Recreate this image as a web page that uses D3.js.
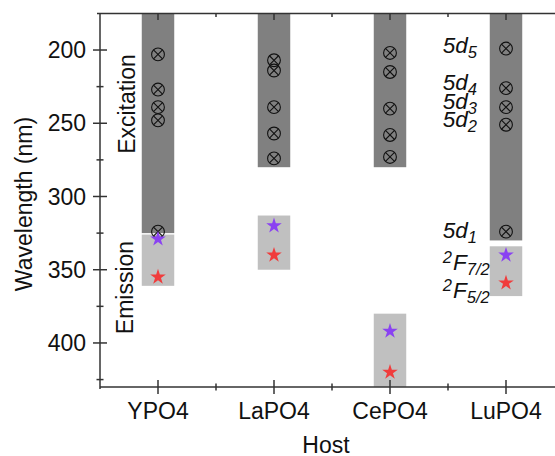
<!DOCTYPE html>
<html>
<head>
<meta charset="utf-8">
<script src="https://cdn.jsdelivr.net/npm/d3@7"></script>
<style>
  body { margin: 0; background: #fff; }
  svg { display: block; font-family: "Liberation Sans", Arial, sans-serif; }
</style>
</head>
<body>
<svg id="chart" width="555" height="456"></svg>
<script>
// hosts along the x axis
var hosts = ['YPO4', 'LaPO4', 'CePO4', 'LuPO4'];

// excitation band (5d levels), from top of axis down to this wavelength
var excitationEnd = [325, 280, 280, 330];

// emission band (2F levels)
var emissionStart = [326, 313, 380, 334];
var emissionEnd = [361, 350, 430, 368];

// 5d level positions per host (nm)
var levels5d = [
  [203, 227, 239, 248, 324],
  [207, 214, 239, 257, 274],
  [202, 215, 240, 258, 273],
  [199, 226, 239, 251, 324]
];

// emission lines per host (nm)
var emission72 = [329, 320, 392, 340];
var emission52 = [355, 340, 420, 359];

var yTicks = [200, 250, 300, 350, 400];
var yMinorTicks = [225, 275, 325, 375, 425];
var xMinorTicks = [1.5, 2.5, 3.5];

// level names written next to LuPO4
var levelNames = [
  { sup: '', main: '5d', sub: '5', at: 202 },
  { sup: '', main: '5d', sub: '4', at: 227 },
  { sup: '', main: '5d', sub: '3', at: 240 },
  { sup: '', main: '5d', sub: '2', at: 252.5 },
  { sup: '', main: '5d', sub: '1', at: 328.5 },
  { sup: '2', main: 'F', sub: '7/2', at: 350.5 },
  { sup: '2', main: 'F', sub: '5/2', at: 369.5 }
];

(function draw() {

  var svg = d3.select('#chart');

  var left = 100, top = 13.4, bottom = 386.9, right = 564;

  var x = d3.scaleLinear()
      .domain([0.5, 4.5])
      .range([left, right]);

  var y = d3.scaleLinear()
      .domain([175, 430])
      .range([top, bottom]);

  var half = 0.14;
  var axisColor = '#333';

  // bars
  var bars = svg.append('g');

  bars.selectAll('rect.exc')
      .data(hosts)
      .enter()
    .append('rect')
      .attr('class', 'exc')
      .attr('x', function (d, i) { return x(i + 1 - half); })
      .attr('width', x(1 + half) - x(1 - half))
      .attr('y', y(175))
      .attr('height', function (d, i) { return y(excitationEnd[i]) - y(175); })
      .attr('fill', '#808080');

  bars.selectAll('rect.em')
      .data(hosts)
      .enter()
    .append('rect')
      .attr('class', 'em')
      .attr('x', function (d, i) { return x(i + 1 - half); })
      .attr('width', x(1 + half) - x(1 - half))
      .attr('y', function (d, i) { return y(emissionStart[i]); })
      .attr('height', function (d, i) { return y(emissionEnd[i]) - y(emissionStart[i]); })
      .attr('fill', '#c0c0c0');

  // circled crosses for 5d levels
  var r = 6.4, k = r * Math.SQRT1_2;

  var pts = [];
  levels5d.forEach(function (list, i) {
    list.forEach(function (v) { pts.push({ i: i, v: v }); });
  });

  var marks = svg.append('g')
    .selectAll('g')
      .data(pts)
      .enter()
    .append('g')
      .attr('transform', function (d) { return 'translate(' + x(d.i + 1) + ',' + y(d.v) + ')'; })
      .attr('fill', 'none')
      .attr('stroke', '#111')
      .attr('stroke-width', 1.1);

  marks.append('circle').attr('r', r);
  marks.append('path').attr('d', 'M' + (-k) + ',' + (-k) + 'L' + k + ',' + k + 'M' + (-k) + ',' + k + 'L' + k + ',' + (-k));

  // stars for emission
  var star = d3.symbol().type(d3.symbolStar).size(75);

  svg.append('g')
    .selectAll('path')
      .data(emission72)
      .enter()
    .append('path')
      .attr('d', star)
      .attr('transform', function (d, i) { return 'translate(' + x(i + 1) + ',' + y(d) + ')'; })
      .attr('fill', '#8a42f2');

  svg.append('g')
    .selectAll('path')
      .data(emission52)
      .enter()
    .append('path')
      .attr('d', star)
      .attr('transform', function (d, i) { return 'translate(' + x(i + 1) + ',' + y(d) + ')'; })
      .attr('fill', '#f03c3c');

  // axes
  var axes = svg.append('g')
      .attr('stroke', axisColor)
      .attr('stroke-width', 1.5);

  axes.append('line').attr('x1', left - 3).attr('x2', 555).attr('y1', top).attr('y2', top);
  axes.append('line').attr('x1', left).attr('x2', 555).attr('y1', bottom).attr('y2', bottom);
  axes.append('line').attr('x1', left).attr('x2', left).attr('y1', top).attr('y2', bottom + 2);

  axes.selectAll('line.yt')
      .data(yTicks)
      .enter()
    .append('line')
      .attr('x1', left - 7).attr('x2', left + 7)
      .attr('y1', function (d) { return y(d); })
      .attr('y2', function (d) { return y(d); });

  axes.selectAll('line.ym')
      .data(yMinorTicks)
      .enter()
    .append('line')
      .attr('x1', left - 3.5).attr('x2', left + 3.5)
      .attr('y1', function (d) { return y(d); })
      .attr('y2', function (d) { return y(d); });

  axes.selectAll('line.xt')
      .data(hosts)
      .enter()
    .append('line')
      .attr('x1', function (d, i) { return x(i + 1); })
      .attr('x2', function (d, i) { return x(i + 1); })
      .attr('y1', bottom - 7).attr('y2', bottom + 7);

  axes.selectAll('line.xm')
      .data(xMinorTicks)
      .enter()
    .append('line')
      .attr('x1', function (d) { return x(d); })
      .attr('x2', function (d) { return x(d); })
      .attr('y1', bottom - 3.5).attr('y2', bottom + 3.5);

  // mirrored ticks on the top edge, pointing inward
  axes.selectAll('line.xtt')
      .data(hosts)
      .enter()
    .append('line')
      .attr('x1', function (d, i) { return x(i + 1); })
      .attr('x2', function (d, i) { return x(i + 1); })
      .attr('y1', top).attr('y2', top + 6.5);

  axes.selectAll('line.xmt')
      .data(xMinorTicks)
      .enter()
    .append('line')
      .attr('x1', function (d) { return x(d); })
      .attr('x2', function (d) { return x(d); })
      .attr('y1', top).attr('y2', top + 3.5);

  // tick labels
  var labels = svg.append('g')
      .attr('font-size', 23)
      .attr('fill', '#111');

  labels.selectAll('text.y')
      .data(yTicks)
      .enter()
    .append('text')
      .attr('x', 86)
      .attr('y', function (d) { return y(d) + 8.2; })
      .attr('text-anchor', 'end')
      .text(function (d) { return d; });

  labels.selectAll('text.x')
      .data(hosts)
      .enter()
    .append('text')
      .attr('x', function (d, i) { return x(i + 1); })
      .attr('y', 418.5)
      .attr('text-anchor', 'middle')
      .text(function (d) { return d; });

  labels.append('text')
      .attr('x', 326)
      .attr('y', 453)
      .attr('text-anchor', 'middle')
      .text('Host');

  labels.append('text')
      .attr('transform', 'translate(31.5,204) rotate(-90)')
      .attr('text-anchor', 'middle')
      .text('Wavelength (nm)');

  labels.append('text')
      .attr('transform', 'translate(135,104) rotate(-90)')
      .attr('text-anchor', 'middle')
      .text('Excitation');

  labels.append('text')
      .attr('transform', 'translate(133,287.5) rotate(-90)')
      .attr('text-anchor', 'middle')
      .text('Emission');

  // level names
  var names = labels.selectAll('text.lv')
      .data(levelNames)
      .enter()
    .append('text')
      .attr('x', x(3.455))
      .attr('y', function (d) { return y(d.at); })
      .attr('font-size', 22.5)
      .attr('font-style', 'italic');

  names.filter(function (d) { return d.sup; })
    .append('tspan')
      .attr('font-size', 16.5)
      .attr('dy', -7)
      .text(function (d) { return d.sup; });

  names.append('tspan')
      .attr('dy', function (d) { return d.sup ? 7 : 0; })
      .attr('dx', function (d) { return d.sup ? 1 : 0; })
      .text(function (d) { return d.main; });

  names.append('tspan')
      .attr('font-size', 16.5)
      .attr('dy', 5)
      .text(function (d) { return d.sub; });
})();
</script>
</body>
</html>
